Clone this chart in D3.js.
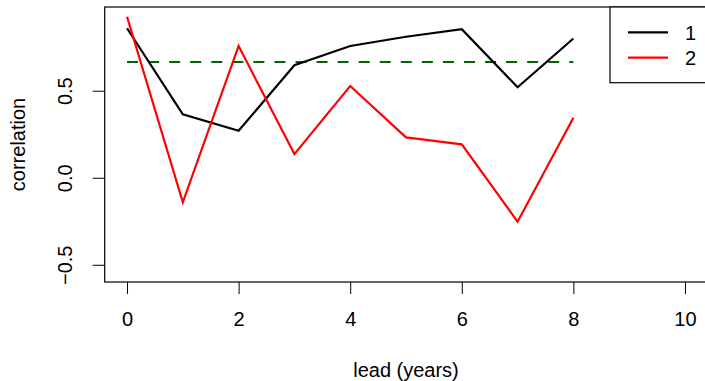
<!DOCTYPE html>
<html>
<head>
<meta charset="utf-8">
<title>Correlation by lead</title>
<script src="https://cdn.jsdelivr.net/npm/d3@7"></script>
<style>
  body { margin: 0; background: #fff; }
  svg text { font-family: "Liberation Sans", Arial, Helvetica, sans-serif; font-size: 20px; fill: #000; }
</style>
</head>
<body>
<div id="chart"></div>
<script>
// data
var leads = [0, 1, 2, 3, 4, 5, 6, 7, 8];
var corr1 = [0.859, 0.364, 0.270, 0.646, 0.757, 0.810, 0.853, 0.520, 0.800];
var corr2 = [0.925, -0.141, 0.757, 0.136, 0.527, 0.232, 0.192, -0.253, 0.345];
var threshold = 0.665;
var xTicks = [0, 2, 4, 6, 8, 10];
var yTicks = [-0.5, 0, 0.5];
var seriesNames = ["1", "2"];
var seriesColors = ["#000000", "#ff0000"];

var width = 705, height = 381;
// plot region (right edge falls just outside the picture)
var pLeft = 104.7, pRight = 707.3, pTop = 7, pBottom = 282;

var svg = d3.select("#chart").append("svg")
    .attr("width", width)
    .attr("height", height);

var x = d3.scaleLinear().domain([-0.4, 10.4]).range([pLeft, pRight]);
var y = d3.scaleLinear().domain([-0.599, 0.981]).range([pBottom, pTop]);

// x axis
var gx = svg.append("g")
    .attr("transform", "translate(0," + pBottom + ")")
    .call(d3.axisBottom(x).tickValues(xTicks).tickSize(12).tickPadding(17.5)
        .tickFormat(d3.format("d")));
gx.select(".domain").remove();
gx.selectAll(".tick line").attr("stroke", "#000");
gx.selectAll(".tick text").style("font-size", "20px");

// y axis, labels rotated like base R
var gy = svg.append("g")
    .attr("transform", "translate(" + pLeft + ",0)")
    .call(d3.axisLeft(y).tickValues(yTicks).tickSize(12).tickFormat(d3.format(".1f")));
gy.select(".domain").remove();
gy.selectAll(".tick line").attr("stroke", "#000");
gy.selectAll(".tick text")
    .attr("transform", "rotate(-90)")
    .attr("x", 0)
    .attr("y", -33)
    .attr("dy", 0)
    .attr("text-anchor", "middle")
    .style("font-size", "20px");

// axis titles
svg.append("text")
    .attr("x", (pLeft + pRight) / 2)
    .attr("y", 376.7)
    .attr("text-anchor", "middle")
    .text("lead (years)");

svg.append("text")
    .attr("transform", "translate(24.5," + ((pTop + pBottom) / 2) + ") rotate(-90)")
    .attr("text-anchor", "middle")
    .text("correlation");

// threshold line
svg.append("line")
    .attr("x1", x(leads[0]))
    .attr("x2", x(leads[leads.length - 1]))
    .attr("y1", y(threshold))
    .attr("y2", y(threshold))
    .attr("stroke", "#006400")
    .attr("stroke-width", 2.2)
    .attr("stroke-dasharray", "11,10.06");

var line = d3.line()
    .x(function(d, i) { return x(leads[i]); })
    .y(function(d) { return y(d); });

[corr1, corr2].forEach(function(s, i) {
    svg.append("path")
        .datum(s)
        .attr("d", line)
        .attr("fill", "none")
        .attr("stroke", seriesColors[i])
        .attr("stroke-width", 2.2)
        .attr("stroke-linejoin", "miter");
});

// plot box
svg.append("rect")
    .attr("x", pLeft)
    .attr("y", pTop)
    .attr("width", pRight - pLeft)
    .attr("height", pBottom - pTop)
    .attr("fill", "none")
    .attr("stroke", "#000")
    .attr("stroke-width", 1.2);

// legend (topright)
var legend = svg.append("g");
legend.append("rect")
    .attr("x", 610)
    .attr("y", pTop)
    .attr("width", pRight - 610)
    .attr("height", 82.7 - pTop)
    .attr("fill", "#fff")
    .attr("stroke", "#000")
    .attr("stroke-width", 1.2);

seriesNames.forEach(function(name, i) {
    var ly = 32.3 + i * 25.4;
    legend.append("line")
        .attr("x1", 628).attr("x2", 668)
        .attr("y1", ly).attr("y2", ly)
        .attr("stroke", seriesColors[i])
        .attr("stroke-width", 2.2);
    legend.append("text")
        .attr("x", 685)
        .attr("y", ly + 7.2)
        .text(name);
});
</script>
</body>
</html>
